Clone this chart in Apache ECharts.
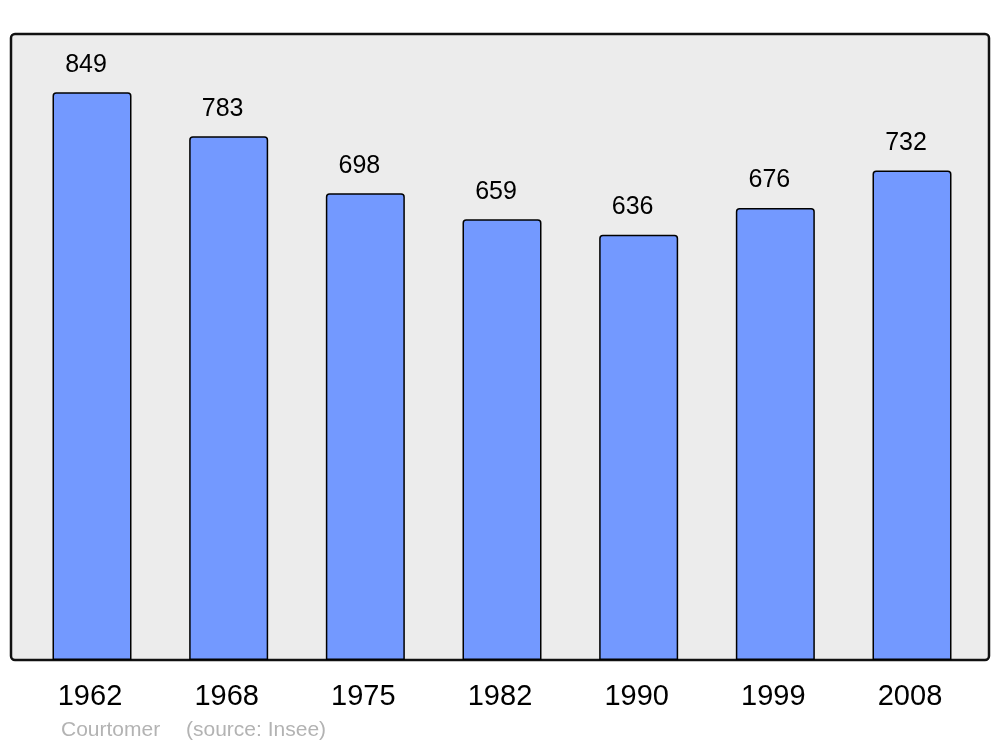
<!DOCTYPE html>
<html>
<head>
<meta charset="utf-8">
<script src="https://cdn.jsdelivr.net/npm/echarts@6/dist/echarts.min.js"></script>
<style>
html,body{margin:0;padding:0;background:#ffffff;}
#chart{width:1000px;height:747px;}
</style>
</head>
<body>
<div id="chart"></div>
<script>
const categories = ['1962', '1968', '1975', '1982', '1990', '1999', '2008'];
const population = [849, 783, 698, 659, 636, 676, 732];
const footerName = 'Courtomer';
const footerSource = '(source: Insee)';

const chart = echarts.init(document.getElementById('chart'), null, {renderer: 'canvas'});
chart.setOption({
  animation: false,
  backgroundColor: '#ffffff',
  textStyle: {fontFamily: '"Liberation Sans", Arial, sans-serif'},
  graphic: [
    {
      type: 'rect',
      z: 0,
      shape: {x: 11, y: 34, width: 978, height: 626, r: 4},
      style: {fill: '#ececec', stroke: '#111111', lineWidth: 2.5}
    },
    {
      type: 'text',
      z: 5,
      left: 61,
      top: 720,
      style: {text: footerName, fill: '#b3b3b3', font: '21px "Liberation Sans", Arial, sans-serif'}
    },
    {
      type: 'text',
      z: 5,
      left: 186,
      top: 720,
      style: {text: footerSource, fill: '#b3b3b3', font: '21px "Liberation Sans", Arial, sans-serif'}
    }
  ],
  grid: {left: 23.67, right: 19.67, top: 34, bottom: 87, containLabel: false},
  xAxis: {
    type: 'category',
    data: categories,
    axisLine: {show: false},
    axisTick: {show: false},
    axisLabel: {color: '#000000', fontSize: 29, margin: 22, padding: [0, 4, 0, 0], fontFamily: '"Liberation Sans", Arial, sans-serif'}
  },
  yAxis: {
    type: 'value',
    min: 0,
    max: 936,
    show: false,
    splitLine: {show: false}
  },
  series: [{
    type: 'bar',
    data: population,
    barWidth: 79,
    z: 3,
    itemStyle: {color: '#7399ff', borderColor: '#000000', borderWidth: 1.5, borderRadius: [3, 3, 0, 0]},
    label: {
      show: true,
      position: 'top',
      distance: 15,
      offset: [-6, 0],
      color: '#000000',
      fontSize: 25,
      fontFamily: '"Liberation Sans", Arial, sans-serif'
    }
  }]
});
</script>
</body>
</html>
